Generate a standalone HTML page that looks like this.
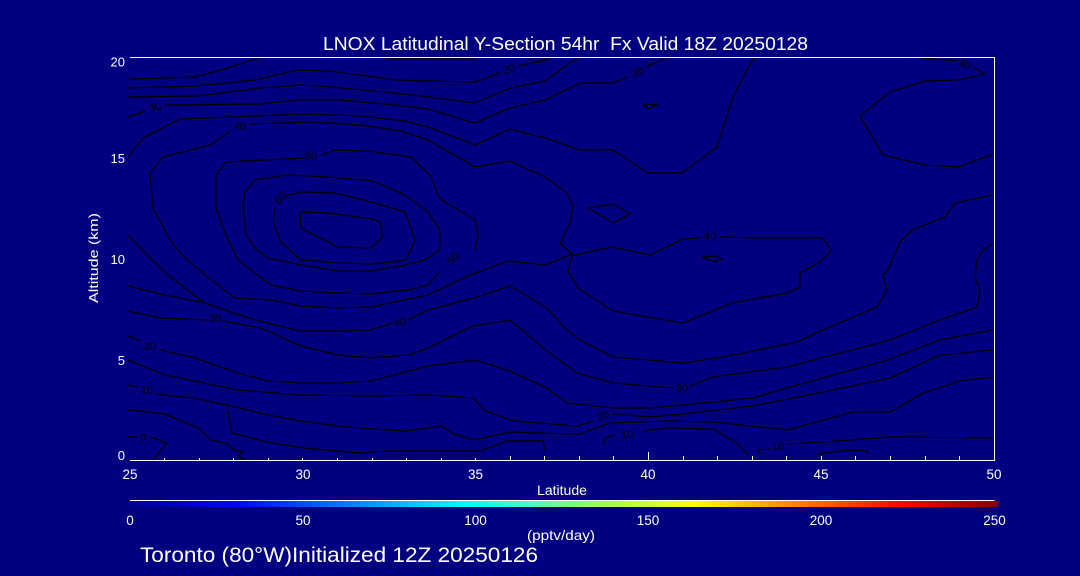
<!DOCTYPE html>
<html>
<head>
<meta charset="utf-8">
<style>
html,body{margin:0;padding:0;background:#000080;}
body{width:1080px;height:576px;overflow:hidden;position:relative;}
svg{position:absolute;left:0;top:0;}
text{font-family:"Liberation Sans",sans-serif;}
</style>
</head>
<body>
<svg width="1080" height="576" viewBox="0 0 1080 576" xmlns="http://www.w3.org/2000/svg">
<defs>
<linearGradient id="jet" x1="0" y1="0" x2="1" y2="0">
<stop offset="0" stop-color="#000088"/>
<stop offset="0.1187" stop-color="#0000ff"/>
<stop offset="0.3882" stop-color="#00ffff"/>
<stop offset="0.5184" stop-color="#80ff80"/>
<stop offset="0.6486" stop-color="#ffff00"/>
<stop offset="0.8906" stop-color="#ff0000"/>
<stop offset="1" stop-color="#800000"/>
</linearGradient>
</defs>
<rect x="0" y="0" width="1080" height="576" fill="#000080"/>

<!-- contours -->
<g fill="none" stroke="#000" stroke-width="1.3" stroke-linejoin="round">
<polyline points="128,79 165,78 195,77 228,68 258,58"/>
<polyline points="388,58.5 475,58.5"/>
<polyline points="128,88 198,86 255,80 298,70 328,71 361,75 395,80 428,81 475,82 500,73"/>
<polyline points="518,66 545,60 550,57.5"/>
<polyline points="128,97 198,96 261,88 301,85 331,87 395,93 428,97 475,103 510,88 545,81 577,58"/>
<polyline points="128,117 145,111"/>
<polyline points="164,105 260,104 298,100 341,100 395,105 428,109 475,123 510,108 545,100 580,83 613,83 627,77"/>
<polyline points="645,68 665,58"/>
<polyline points="128,157 143,138 180,119 235,117 305,114 361,116 405,121 428,127 475,145 510,129 545,138 580,150 613,150 648,173 682,173 717,147 733,97 753,58"/>
<!-- 40 ring -->
<polyline points="231,131 210,145 163,157 150,173 153,208 171,242 185,258 205,275 235,298 271,300 301,306 338,308 371,307 428,295 470,275 508,261 545,265 572,254 560,243 570,223 573,207 567,193 545,177 510,161 475,167 428,140 401,131 361,125 311,122 250,124"/>
<!-- 50 ring -->
<polyline points="305,158 226,162 216,175 216,208 226,235 238,260 255,273 271,285 301,291 338,293 371,294 408,290 428,285 440,271"/>
<polyline points="321,155 335,150 368,151 411,157 430,175 440,199 475,220 478,235 475,250"/>
<!-- ring 3 -->
<polygon points="245,192 255,180 288,175 328,177 373,181 405,195 428,212 440,230 440,250 425,260 405,265 371,271 338,271 301,265 268,258 255,248 246,235 243,208"/>
<!-- 60 ring -->
<polyline points="285,196 301,192 335,193 375,203 405,212 411,228 415,240 406,260 371,264 338,263 301,260 281,242 273,222 275,207"/>
<!-- innermost -->
<polygon points="300,212 301,228 338,247 371,248 383,237 380,222 373,219 328,213"/>
<!-- lower lines -->
<polyline points="128,235 150,258 168,275 205,303 233,313 263,322 300,331 340,331 370,330 393,323"/>
<polyline points="408,320 428,310 477,297 510,286 547,308 567,330 580,340 613,357 648,360 683,363 723,357 797,342 823,330 877,307 887,290 883,275 888,270 900,242 912,230 945,217 955,203 993,195"/>
<polyline points="128,286 165,295 205,303"/>
<polyline points="128,311 161,318 208,320"/>
<polyline points="223,321 261,328 301,346 338,355 371,358 408,355 428,348 473,326 510,320 520,328 543,348 577,373 613,383 673,388"/>
<polyline points="690,386 713,377 787,367 890,340 940,320 977,307 980,290 975,277 977,260 983,250 993,243"/>
<polyline points="128,336 141,341"/>
<polyline points="160,350 195,358 238,373 268,381 301,383 338,383 371,381 428,366 475,360 510,371 547,388 567,403 613,408 650,408 683,405 753,398 790,387 888,360 940,340 993,330"/>
<polyline points="128,360 165,375 238,390 301,395 371,396 428,395 473,398 485,411 513,421 577,426 593,421"/>
<polyline points="612,414 650,417 683,414 753,406 823,392 890,378 940,355 993,350"/>
<polyline points="128,385 138,387"/>
<polyline points="155,394 193,398 227,405 268,415 301,421 338,426 371,429 405,431 428,428 442,426 452,433 473,440 510,432 540,433 580,434 610,423 667,421 713,422 787,430 853,412 890,412 923,393 960,381 993,377"/>
<polyline points="227,407 232,433 267,442 303,448 360,453 390,451 480,451 507,441 543,441 545,450"/>
<polyline points="128,410 165,414 198,428 211,440 228,444 235,451 243,451 238,456 245,460"/>
<polyline points="128,437 137,437"/>
<polyline points="150,437 167,443 157,455 153,460"/>
<polyline points="603,445 605,438 615,435"/>
<polyline points="642,431 667,428 713,429 737,443 748,455"/>
<polyline points="757,453 758,450 770,449"/>
<polyline points="787,444 823,442 890,437 993,438"/>
<polyline points="817,454 850,450 867,451 868,454"/>
<!-- closed 40 region -->
<polyline points="700,238 683,239 650,255 612,247 580,254 572,256 568,271 578,288 613,311 683,323 732,303 787,293 800,287 800,273 820,262 832,250 822,238 753,238 720,237"/>
<polygon points="702,257 717,256 722,259 715,262"/>
<polygon points="588,208 613,204 630,214 613,223"/>
<polygon points="643,105 658,104 648,109"/>
<!-- top right -->
<polyline points="922,58 957,61"/>
<polyline points="973,67 985,74 958,80 925,81 890,92 860,116 883,155 925,165 958,167 993,154"/>
</g>

<!-- contour labels -->
<g fill="#000" font-size="11" text-anchor="middle">
<text x="509" y="73" transform="rotate(-20 509 69)">20</text>
<text x="155" y="111" transform="rotate(-15 155 107)">30</text>
<text x="637" y="76" transform="rotate(-25 637 72)">30</text>
<text x="240" y="130">40</text>
<text x="311" y="160">50</text>
<text x="280" y="202" transform="rotate(-45 280 198)">60</text>
<text x="453" y="262" transform="rotate(-45 453 258)">50</text>
<text x="400" y="326">40</text>
<text x="215" y="322">30</text>
<text x="150" y="350">20</text>
<text x="147" y="394">10</text>
<text x="143" y="441">0</text>
<text x="682" y="392">30</text>
<text x="603" y="419" transform="rotate(-20 603 415)">20</text>
<text x="627" y="438">10</text>
<text x="778" y="450">10</text>
<text x="710" y="240">40</text>
<text x="965" y="68" transform="rotate(20 965 64)">40</text>
</g>

<!-- axes -->
<g stroke="#fff" stroke-width="1" shape-rendering="crispEdges" fill="none">
<line x1="130" y1="57.5" x2="994.5" y2="57.5"/>
<line x1="994.5" y1="57" x2="994.5" y2="460.5"/>
<line x1="130" y1="460.5" x2="995" y2="460.5"/>
<path d="M164.5 460v-2 M199.5 460v-2 M233.5 460v-2 M268.5 460v-2 M337.5 460v-2 M372.5 460v-2 M406.5 460v-2 M441.5 460v-2 M302.5 460v-2 M475.5 460v-2 M510.5 460v-4 M544.5 460v-4 M579.5 460v-4 M613.5 460v-4 M648.5 460v-8 M683.5 460v-4 M717.5 460v-4 M752.5 460v-4 M786.5 460v-4 M821.5 460v-4 M855.5 460v-4 M890.5 460v-4 M925.5 460v-4 M959.5 460v-4"/>
<line x1="130" y1="500.5" x2="994.5" y2="500.5"/>
</g>
<rect x="130" y="501" width="868" height="6" fill="url(#jet)"/>

<!-- text -->
<g fill="#fff">
<text x="323" y="50" font-size="18" textLength="485" lengthAdjust="spacingAndGlyphs" style="white-space:pre">LNOX Latitudinal Y-Section 54hr  Fx Valid 18Z 20250128</text>
<g font-size="13" text-anchor="end">
<text x="125" y="66.5">20</text>
<text x="125" y="163">15</text>
<text x="125" y="264">10</text>
<text x="125" y="365">5</text>
<text x="125" y="460">0</text>
</g>
<text transform="translate(98 258) rotate(-90)" font-size="13" text-anchor="middle" textLength="90" lengthAdjust="spacingAndGlyphs">Altitude (km)</text>
<g font-size="13.5" text-anchor="middle">
<text x="130" y="479">25</text>
<text x="303" y="479">30</text>
<text x="475.5" y="479">35</text>
<text x="648" y="479">40</text>
<text x="821" y="479">45</text>
<text x="994" y="479">50</text>
<text x="562" y="495" textLength="50" lengthAdjust="spacingAndGlyphs">Latitude</text>
<text x="130" y="525">0</text>
<text x="303" y="525">50</text>
<text x="475.5" y="525">100</text>
<text x="648" y="525">150</text>
<text x="821" y="525">200</text>
<text x="994.5" y="525">250</text>
<text x="561" y="540" font-size="14" textLength="68" lengthAdjust="spacingAndGlyphs">(pptv/day)</text>
</g>
<text x="140" y="562" font-size="21" textLength="398" lengthAdjust="spacingAndGlyphs">Toronto (80°W)Initialized 12Z 20250126</text>
</g>
</svg>
</body>
</html>
